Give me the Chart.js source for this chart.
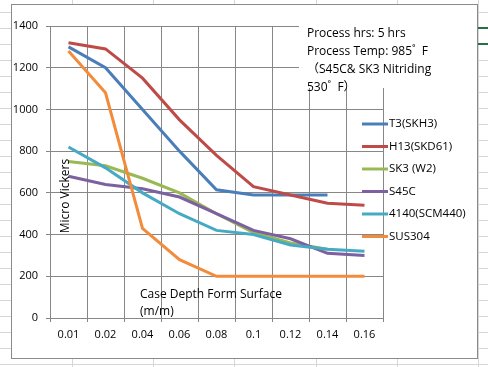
<!DOCTYPE html>
<html>
<head>
<meta charset="utf-8">
<script src="https://cdn.jsdelivr.net/npm/chart.js@4"></script>
<style>
  html, body { margin: 0; padding: 0; background: #fff; }
  #wrap { width: 488px; height: 367px; }
</style>
</head>
<body>
<div id="wrap"><canvas id="c" width="488" height="367"></canvas></div>
<script>
// case depth categories (m/m)
const depthLabels = ['0.01', '0.02', '0.04', '0.06', '0.08', '0.1', '0.12', '0.14', '0.16']

// micro vickers readings per steel
const t3Skh3 = [1300, 1200, 1000, 800, 615, 590, 590, 590, null]
const h13Skd61 = [1320, 1290, 1150, 950, 780, 630, 590, 550, 540]
const sk3W2 = [750, 730, 670, 600, 500, 410, 360, 330, null]
const s45c = [680, 640, 620, 580, 500, 420, 380, 310, 300]
const scm440 = [820, 720, 600, 500, 420, 400, 350, 330, 320]
const sus304 = [1280, 1080, 430, 280, 200, 200, 200, 200, 200]

const seriesNames = ['T3(SKH3)', 'H13(SKD61)', 'SK3 (W2)', 'S45C', '4140(SCM440)', 'SUS304']
const seriesColors = ['#4a7ebb', '#be4b48', '#98b954', '#7d60a0', '#46aac5', '#f28c3c']
const yTicks = [0, 200, 400, 600, 800, 1000, 1200, 1400]

const noteLines = ['Process hrs: 5 hrs', 'Process Temp: 985˚  F', '（S45C& SK3 Nitriding', '530˚  F）']

const FONT = '"Open Sans", "Noto Sans CJK SC", sans-serif'
const GRID = '#878787'

const sheetBackground = {
  id: 'sheetBackground',
  beforeDraw(chart) {
    const ctx = chart.ctx
    const W = chart.width
    const H = chart.height
    ctx.save()
    ctx.fillStyle = '#ffffff'
    ctx.fillRect(0, 0, W, H)
    // spreadsheet cells
    ctx.strokeStyle = '#d6d6d6'
    ctx.lineWidth = 1
    for (let y = 12; y < H; y += 16) {
      ctx.beginPath()
      ctx.moveTo(0, y + 0.5)
      ctx.lineTo(W, y + 0.5)
      ctx.stroke()
    }
    for (let x = 72.3; x < W; x += 81.1) {
      ctx.beginPath()
      ctx.moveTo(Math.round(x) + 0.5, 0)
      ctx.lineTo(Math.round(x) + 0.5, H)
      ctx.stroke()
    }
    // selection marks at right
    ctx.fillStyle = '#217346'
    ctx.fillRect(478, 27, 10, 2)
    ctx.fillRect(478, 43, 10, 2)
    // chart object
    ctx.fillStyle = '#ffffff'
    ctx.fillRect(11, 4, 466, 354)
    ctx.strokeStyle = '#8a8a8a'
    ctx.strokeRect(11.5, 4.5, 466, 354)
    ctx.restore()
  },
}

const notesAndLegend = {
  id: 'notesAndLegend',
  beforeDatasetsDraw(chart) {
    const ctx = chart.ctx
    ctx.save()
    // text box over the grid
    ctx.fillStyle = '#ffffff'
    ctx.fillRect(299, 20, 170, 68)
    ctx.fillStyle = '#000000'
    ctx.font = '12px ' + FONT
    ctx.textAlign = 'left'
    ctx.textBaseline = 'middle'
    noteLines.forEach((line, i) => {
      ctx.fillText(line, 307, 34 + i * 18)
    })
    ctx.restore()
  },
  afterDatasetsDraw(chart) {
    const ctx = chart.ctx
    ctx.save()
    // legend
    ctx.font = '11.5px ' + FONT
    ctx.textAlign = 'left'
    ctx.textBaseline = 'middle'
    chart.data.datasets.forEach((ds, i) => {
      const y = 124 + i * 22.5
      ctx.strokeStyle = ds.borderColor
      ctx.lineWidth = 3
      ctx.beginPath()
      ctx.moveTo(362, y)
      ctx.lineTo(388, y)
      ctx.stroke()
      ctx.fillStyle = '#000000'
      ctx.fillText(ds.label, 389, y)
    })
    // axis titles
    ctx.font = '12px ' + FONT
    ctx.fillText('Case Depth Form Surface', 140, 295)
    ctx.fillText('(m/m)', 140, 312)
    ctx.translate(66, 196)
    ctx.rotate(-Math.PI / 2)
    ctx.textAlign = 'center'
    ctx.fillText('Micro Vickers', 0, 0)
    ctx.restore()
  },
}

const allSeries = [t3Skh3, h13Skd61, sk3W2, s45c, scm440, sus304]

new Chart(document.getElementById('c'), {
  type: 'line',
  data: {
    labels: depthLabels,
    datasets: allSeries.map((values, i) => ({
      label: seriesNames[i],
      data: values,
      borderColor: seriesColors[i],
      backgroundColor: seriesColors[i],
      borderWidth: 3,
      pointRadius: 0,
      tension: 0,
      spanGaps: false,
      order: allSeries.length - i,
    })),
  },
  options: {
    responsive: false,
    animation: false,
    events: [],
    layout: { padding: { top: 26, right: 105, left: 0, bottom: 0 } },
    plugins: {
      legend: { display: false },
      tooltip: { enabled: false },
    },
    scales: {
      x: {
        offset: true,
        afterFit: (s) => { s.height = 49 },
        grid: { offset: true, color: GRID, lineWidth: 1, tickLength: 4, tickColor: GRID },
        border: { color: GRID, width: 1 },
        ticks: { color: '#000', font: { family: FONT, size: 11 }, padding: 6, maxRotation: 0, autoSkip: false },
      },
      y: {
        min: 0,
        max: 1400,
        afterFit: (s) => { s.width = 50 },
        afterBuildTicks: (s) => { s.ticks = yTicks.map((v) => ({ value: v })) },
        grid: { color: GRID, lineWidth: 1, tickLength: 4, tickColor: GRID },
        border: { color: GRID, width: 1 },
        ticks: {
          color: '#000',
          font: { family: FONT, size: 11 },
          padding: 8,
          callback: (value) => String(value),
        },
      },
    },
  },
  plugins: [sheetBackground, notesAndLegend],
})
</script>
</body>
</html>
